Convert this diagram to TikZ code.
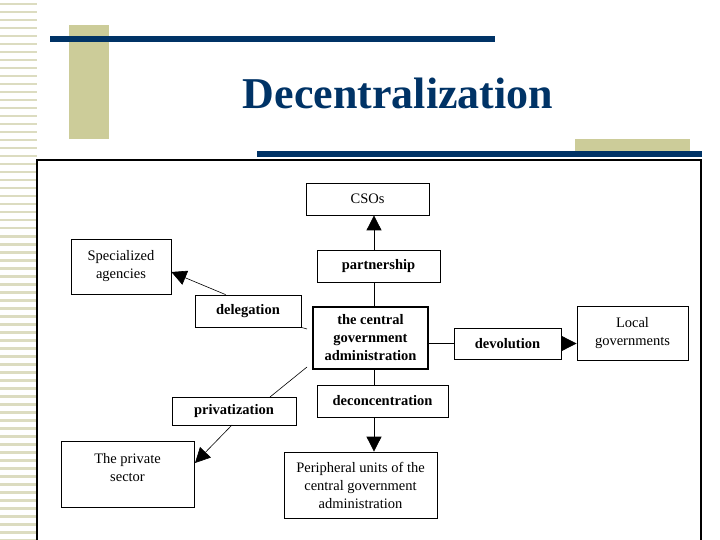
\documentclass[tikz,border=0pt]{standalone}
\usepackage{fontspec}
\setmainfont{Liberation Serif}
\usetikzlibrary{arrows.meta}
\definecolor{navy}{HTML}{003366}
\definecolor{beige}{HTML}{CCCC99}
\definecolor{stripe}{HTML}{DCDCC0}
\tikzset{
  bx/.style={draw=black, line width=0.8pt, fill=white, align=center, font=\fontsize{14.5}{18}\selectfont, inner sep=0pt},
  bl/.style={bx, font=\fontsize{14.5}{18}\selectfont\bfseries},
  ln/.style={line width=0.8pt},
  thin/.style={line width=0.6pt},
  tip/.style={-{Triangle[width=15pt,length=15pt]}},
}
\begin{document}
\begin{tikzpicture}[x=1pt,y=-1pt]
\useasboundingbox (0,0) rectangle (720,540);
\fill[white] (0,0) rectangle (720,540);
% left stripes
\foreach \i in {0,...,67} {\fill[stripe] (0,{\i*8+3}) rectangle (37,{\i*8+5.5});}
% decorations
\fill[beige] (69,25) rectangle (109,139);
\fill[navy] (50,36) rectangle (495,42);
\fill[beige] (575,139) rectangle (690,157);
\fill[navy] (257,151) rectangle (702,157);
\node[text=navy, font=\fontsize{44}{48}\selectfont\bfseries] (title) at (398,93) {Decentralization};
% frame
\draw[line width=2pt] (37,160) rectangle (701,545);
% boxes
\node[bx, minimum width=123pt, minimum height=32pt] (cso) at (367.5,199) {CSOs};
\node[bl, minimum width=123pt, minimum height=32pt] (part) at (378.5,266) {partnership};
\node[bx, minimum width=100pt, minimum height=55pt] (spec) at (121,266.5) {Specialized\\agencies};
\node[bl, minimum width=106pt, minimum height=32pt] (deleg) at (248,311) {delegation};
\node[bx, line width=2.2pt, minimum width=115pt, minimum height=62pt, font=\fontsize{14.5}{18}\selectfont\bfseries] (cent) at (370.5,338) {the central\\government\\administration};
\node[bl, minimum width=107pt, minimum height=31pt] (devo) at (507.5,343.5) {devolution};
\node[bx, minimum width=111pt, minimum height=54pt] (local) at (632.5,333) {Local\\governments};
\node[bl, minimum width=124pt, minimum height=28pt] (priv) at (234,411) {privatization};
\node[bl, minimum width=131pt, minimum height=32pt] (decon) at (382.5,401) {deconcentration};
\node[bx, minimum width=133pt, minimum height=66pt, text depth=14pt] (ps) at (127.5,474) {The private\\sector};
\node[bx, minimum width=153pt, minimum height=66pt] (peri) at (360.5,485) {Peripheral units of the\\central government\\administration};
% connectors
\draw[ln] (cent.north -| 374,0) -- (part.south -| 374,0);
\draw[ln,tip] (part.north -| 374,0) -- (cso.south -| 374,0);
\draw[ln] (cent.south -| 374,0) -- (decon.north -| 374,0);
\draw[ln,tip] (decon.south -| 374,0) -- (peri.north -| 374,0);
\draw[ln] (cent.east |- devo) -- (devo.west);
\draw[ln,tip] (devo.east) -- (local.west |- devo);
\coordinate (d1) at (307,329);
\draw[thin] (d1) -- (deleg.south east);
\draw[thin,tip] (deleg.north west) ++(31,0) -- (spec.east |- 0,272);
\coordinate (p1) at (307,367);
\draw[thin] (p1) -- (270,397);
\draw[thin,tip] (232,425) -- (195,463);
\end{tikzpicture}
\end{document}
